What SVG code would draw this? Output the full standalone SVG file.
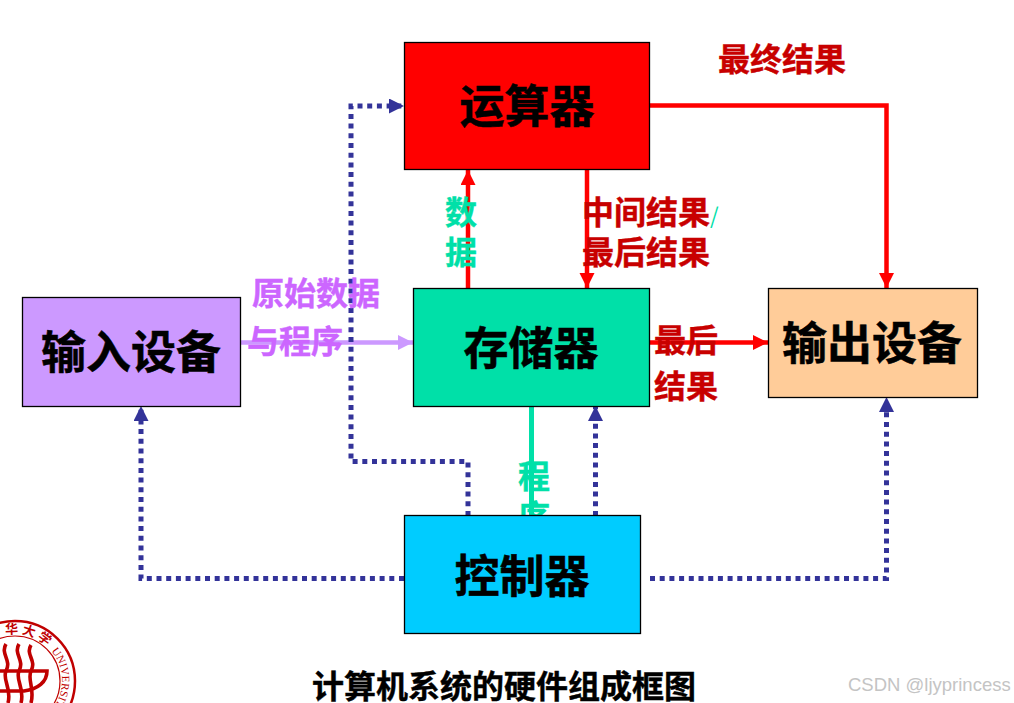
<svg xmlns="http://www.w3.org/2000/svg" width="1014" height="703" viewBox="0 0 1014 703">
<style>
text{font-family:"Noto Sans CJK SC","Liberation Sans",sans-serif;font-weight:700}
.box{stroke:#000;stroke-width:1.3}
.big{font-size:45px;fill:#000;stroke:#000;stroke-width:.5;text-anchor:middle}
.lab{font-size:32px;stroke-width:.4}
.red{fill:#c80000;stroke:#c80000}
.grn{fill:#00e0a8;stroke:#00e0a8}
.pur{fill:#cc66ff;stroke:#cc66ff}
.solid{fill:none;stroke:#f00;stroke-width:4.5}
.dot{fill:none;stroke:#333399;stroke-width:5;stroke-dasharray:5 4.7}
.seal{fill:none;stroke:#c00000}
</style>
<defs>
<marker id="r" markerUnits="userSpaceOnUse" markerWidth="15" markerHeight="16" refX="15" refY="7.500" orient="auto"><path d="M0 0L15 7.500L0 15Z" fill="#f00"/></marker>
<marker id="b" markerUnits="userSpaceOnUse" markerWidth="15" markerHeight="16" refX="15" refY="7.500" orient="auto"><path d="M0 0L15 7.500L0 15Z" fill="#333399"/></marker>
<marker id="p" markerUnits="userSpaceOnUse" markerWidth="15" markerHeight="16" refX="15" refY="7.500" orient="auto"><path d="M0 0L15 7.500L0 15Z" fill="#cc99ff"/></marker>
<path id="sealArc" d="M-32 681A47 47 0 1 1 51 711"/>
<clipPath id="progClip"><rect x="500" y="490" width="70" height="25"/></clipPath>
</defs>
<rect width="1014" height="703" fill="#fff"/>

<g id="seal-logo">
<circle class="seal" cx="15" cy="681" r="60" stroke-width="2.500"/>
<circle class="seal" cx="15" cy="681" r="45" stroke-width="1.200"/>
<text fill="#c00000" style="font-weight:400"><textPath href="#sealArc" startOffset="64"><tspan font-size="13" letter-spacing="3" font-weight="700">华大学</tspan><tspan dx="3" font-size="11" style="font-family:'Liberation Serif',serif">UNIVERSITY</tspan></textPath></text>
<g class="seal" stroke-width="3.600">
<path d="M6 644C0 654 12 660 6 671C2 680 12 688 8 703"/>
<path d="M19 644C13 654 25 660 19 671C15 680 25 688 21 703"/>
<path d="M31 645C25 655 37 660 31 671C27 680 35 688 31 703"/>
<path d="M0 671H47C47 682 38 689 24 691H0"/>
</g>
</g>

<g id="connectors">
<path class="solid" d="M650 105.500H886.500V288" marker-end="url(#r)"/>
<path class="solid" d="M587 170V288" marker-end="url(#r)"/>
<path class="solid" d="M468 288V170" marker-end="url(#r)"/>
<path class="solid" d="M650 342.500H768" marker-end="url(#r)"/>
<path d="M241 342.500H413" fill="none" stroke="#cc99ff" stroke-width="4.500" marker-end="url(#p)"/>
<path d="M531.500 406V516" fill="none" stroke="#00e0a8" stroke-width="5"/>
<path class="dot" d="M468 516V461.500H351V106H404" marker-end="url(#b)"/>
<path class="dot" d="M595.500 516V406" marker-end="url(#b)"/>
<path class="dot" d="M404 578.500H141V406" marker-end="url(#b)"/>
<path class="dot" d="M650 578.500H886.500V397" marker-end="url(#b)"/>
</g>

<g id="label-final"><text class="lab red" x="718" y="71">最终结果</text></g>
<g id="label-mid"><text class="lab red" x="582" y="224">中间结果<tspan class="grn" font-size="22" style="font-weight:400;stroke:none">/</tspan></text><text class="lab red" x="582" y="264">最后结果</text></g>
<g id="label-data"><text class="lab grn" x="445" y="224">数</text><text class="lab grn" x="445" y="264">据</text></g>
<g id="label-raw"><text class="lab pur" x="252" y="305">原始数据</text><text class="lab pur" x="247" y="353">与程序</text></g>
<g id="label-last"><text class="lab red" x="654" y="352">最后</text><text class="lab red" x="654" y="398">结果</text></g>
<g id="label-prog"><text class="lab grn" x="518" y="488">程</text><text class="lab grn" x="518" y="528" clip-path="url(#progClip)">序</text></g>

<g id="node-alu"><rect class="box" x="404.500" y="42.500" width="245" height="127" fill="#f00"/><text class="big" x="527" y="123">运算器</text></g>
<g id="node-memory"><rect class="box" x="413.500" y="288.500" width="236" height="118" fill="#00e0a8"/><text class="big" x="531" y="365">存储器</text></g>
<g id="node-input"><rect class="box" x="22.500" y="297.500" width="218" height="109" fill="#cc99ff"/><text class="big" x="131" y="369">输入设备</text></g>
<g id="node-output"><rect class="box" x="768.500" y="288.500" width="209" height="109" fill="#ffcc99"/><text class="big" x="872" y="360">输出设备</text></g>
<g id="node-control"><rect class="box" x="404.500" y="515.500" width="236" height="118" fill="#00ccff"/><text class="big" x="522" y="593">控制器</text></g>
<g id="title"><text x="504" y="698" font-size="32" text-anchor="middle" fill="#000" stroke="#000" stroke-width=".4">计算机系统的硬件组成框图</text></g>
<g id="watermark"><text x="848" y="691" font-size="18.500" fill="#c4c4c4" style="font-family:'Liberation Sans',sans-serif;font-weight:400">CSDN @ljyprincess</text></g>
</svg>
